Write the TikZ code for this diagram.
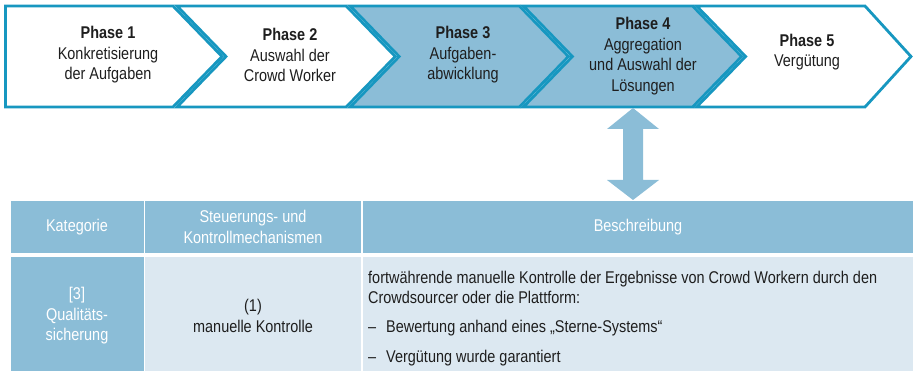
\documentclass[tikz,border=0pt]{standalone}
\usepackage{fontspec}
\setmainfont{Liberation Sans}[FakeStretch=0.85]
\definecolor{cborder}{HTML}{1797C0}
\definecolor{cfill}{HTML}{8BBDD7}
\definecolor{clight}{HTML}{DCE8F1}
\definecolor{ctext}{HTML}{1E1E1E}
\begin{document}
\begin{tikzpicture}[x=1pt,y=-1pt,
  chev/.style={draw=cborder, line width=2.8pt, line join=miter},
  phase/.style={align=center, text=ctext, font=\fontsize{17}{20.5}\selectfont, inner sep=0pt},
  cell/.style={inner sep=0pt, outer sep=0pt, align=center, font=\fontsize{17}{20.5}\selectfont},
  hcell/.style={cell, fill=cfill, text=white},
  lcell/.style={cell, fill=clight, text=ctext},
  desc/.style={inner sep=0pt, align=left, anchor=west, text=ctext, font=\fontsize{17}{20.5}\selectfont}]
\useasboundingbox (0,0) rectangle (913,371);
% chevrons
\path[chev, fill=white] (5.5,6) -- (173,6) -- (222,56.5) -- (173,107) -- (5.5,107) -- cycle;
\path[chev, fill=white] (177,6) -- (346.2,6) -- (395.2,56.5) -- (346.2,107) -- (177,107) -- (226,56.5) -- cycle;
\path[chev, fill=cfill] (350.2,6) -- (519.4,6) -- (568.4,56.5) -- (519.4,107) -- (350.2,107) -- (399.2,56.5) -- cycle;
\path[chev, fill=cfill] (523.4,6) -- (692.6,6) -- (741.6,56.5) -- (692.6,107) -- (523.4,107) -- (572.4,56.5) -- cycle;
\path[chev, fill=white] (696.6,6) -- (865,6) -- (911,56.5) -- (865,107) -- (696.6,107) -- (745.6,56.5) -- cycle;
% phase texts
\node[phase] (ph1) at (108,55) {\textbf{Phase 1}\\Konkretisierung\\der Aufgaben};
\node[phase] (ph2) at (290,55) {\textbf{Phase 2}\\Auswahl der\\Crowd Worker};
\node[phase] (ph3) at (463,55) {\textbf{Phase 3}\\Aufgaben-\\abwicklung};
\node[phase] (ph4) at (643,56) {\textbf{Phase 4}\\Aggregation\\und Auswahl der\\Lösungen};
\node[phase] (ph5) at (807,52) {\textbf{Phase 5}\\Vergütung};
% table
\node[hcell, minimum width=133, minimum height=52] (h1) at (77,227) {Kategorie};
\node[hcell, minimum width=216, minimum height=52] (h2) at (253,227) {Steuerungs- und\\Kontrollmechanismen};
\node[hcell, minimum width=550, minimum height=52] (h3) at (638,227) {Beschreibung};
\node[hcell, minimum width=133, minimum height=118] (b1) at (77,316) {[3]\\Qualitäts-\\sicherung};
\node[lcell, minimum width=216, minimum height=118] (b2) at (253,316) {(1)\\manuelle Kontrolle};
\node[lcell, minimum width=550, minimum height=118] (b3) at (638,316) {};
\node[desc] (d1) at (368,287.5) {fortwährende manuelle Kontrolle der Ergebnisse von Crowd Workern durch den\\Crowdsourcer oder die Plattform:};
\node[desc] (d2) at (368,328) {–\hspace{10pt}Bewertung anhand eines „Sterne-Systems“};
\node[desc] (d3) at (368,358) {–\hspace{10pt}Vergütung wurde garantiert};
% double arrow
\coordinate (a1) at (633,108);
\coordinate (a2) at (633,200);
\fill[cfill] (a1) -- ++(26,21) -- ++(-16,0) -- ++(0,51) -- ++(16,0) -- (a2) -- ++(-26,-20) -- ++(16,0) -- ++(0,-51) -- ++(-16,0) -- cycle;
\end{tikzpicture}
\end{document}
